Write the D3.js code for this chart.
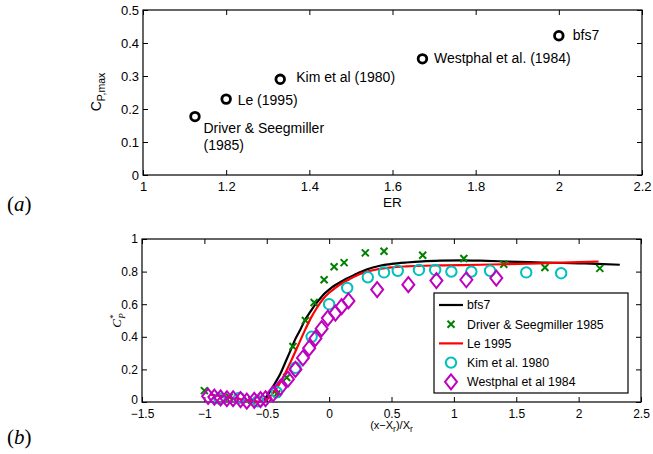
<!DOCTYPE html>
<html><head><meta charset="utf-8">
<script src="https://cdn.jsdelivr.net/npm/d3@7"></script>
<style>
body{margin:0;background:#fff}
svg{display:block}
text{fill:#000}
.sans{font-family:"Liberation Sans",Arial,Helvetica,sans-serif}
.serif{font-family:"Liberation Serif","DejaVu Serif",serif}
</style>
</head><body>
<svg id="c" width="653" height="454" class="sans"></svg>
<script>
// ---------- Panel (a) data ----------
const erValues = [1.125, 1.2, 1.33, 1.672, 2.0];
const cpMaxValues = [0.177, 0.23, 0.29, 0.352, 0.422];
const cpMaxLabels = [["Driver & Seegmiller", "(1985)"], ["Le (1995)"], ["Kim et al (1980)"], ["Westphal et al. (1984)"], ["bfs7"]];
const topXTicks = [1, 1.2, 1.4, 1.6, 1.8, 2, 2.2];
const topYTicks = [0, 0.1, 0.2, 0.3, 0.4, 0.5];

// ---------- Panel (b) data ----------
const bfs7X = [-0.54,-0.49,-0.434,-0.39,-0.354,-0.31,-0.274,-0.23,-0.193,-0.15,-0.113,-0.07,-0.033,0.0,0.047,0.088,0.127,0.21,0.3,0.407,0.5,0.62,0.75,0.89,1.07,1.21,1.42,1.6,1.74,2.0,2.15,2.33];
const bfs7Y = [0,0.045,0.115,0.175,0.238,0.315,0.381,0.445,0.504,0.555,0.596,0.637,0.668,0.69,0.716,0.735,0.752,0.783,0.813,0.836,0.847,0.856,0.863,0.867,0.869,0.867,0.862,0.858,0.855,0.851,0.848,0.842];

const le1995X = [-0.95,-0.85,-0.75,-0.65,-0.57,-0.51,-0.46,-0.40,-0.35,-0.30,-0.25,-0.20,-0.15,-0.10,-0.05,0.0,0.05,0.10,0.16,0.247,0.32,0.407,0.5,0.62,0.75,0.89,1.05,1.21,1.4,1.6,1.8,2.0,2.16];
const le1995Y = [0.045,0.035,0.022,0.01,0.003,0.01,0.045,0.11,0.18,0.26,0.345,0.43,0.51,0.575,0.63,0.67,0.70,0.727,0.752,0.785,0.803,0.817,0.826,0.832,0.836,0.838,0.840,0.842,0.845,0.849,0.853,0.858,0.862];

const driverX = [-1.0,-0.8,-0.62,-0.42,-0.34,-0.29,-0.19,-0.12,-0.04,0.04,0.12,0.29,0.44,0.75,1.08,1.40,1.73,2.17];
const driverY = [0.07,0.03,0.01,0.05,0.15,0.34,0.50,0.61,0.75,0.83,0.855,0.915,0.925,0.90,0.88,0.845,0.825,0.82];

const kimX = [-0.88,-0.72,-0.57,-0.42,-0.27,-0.14,0.0,0.145,0.31,0.44,0.55,0.72,0.85,0.98,1.14,1.29,1.58,1.86];
const kimY = [0.02,0.025,0.005,0.06,0.21,0.40,0.60,0.70,0.765,0.795,0.805,0.81,0.81,0.80,0.80,0.805,0.795,0.79];

const westphalX = [-0.97,-0.92,-0.87,-0.82,-0.77,-0.71,-0.66,-0.60,-0.55,-0.51,-0.45,-0.39,-0.33,-0.27,-0.21,-0.16,-0.11,-0.06,-0.01,0.05,0.10,0.155,0.385,0.635,0.86,1.10,1.34];
const westphalY = [0.035,0.03,0.025,0.02,0.02,0.015,0.005,0.01,0.015,0.02,0.05,0.09,0.14,0.20,0.27,0.33,0.39,0.45,0.515,0.545,0.585,0.62,0.69,0.72,0.745,0.75,0.76];

const botXTicks = [-1.5,-1,-0.5,0,0.5,1,1.5,2,2.5];
const botYTicks = [0,0.2,0.4,0.6,0.8,1];
const legendNames = ["bfs7", "Driver & Seegmiller 1985", "Le 1995", "Kim et al. 1980", "Westphal et al 1984"];

// ---------- drawing ----------
const svg = d3.select("#c");
const fmt = v => d3.format("")(v).replace("-", "\u2212");

function boxAxes(g, x, y, xt, yt, xPad, yPad, fs) {
  const [x0, x1] = x.range(), [y0, y1] = y.range();
  g.append("g").attr("transform", `translate(0,${y0})`)
    .call(d3.axisBottom(x).tickValues(xt).tickFormat(fmt).tickSizeInner(-5).tickSizeOuter(0).tickPadding(xPad))
    .call(a => { a.select(".domain").remove(); a.selectAll("text").attr("font-size", fs).attr("font-family", null); a.selectAll("line").attr("stroke", "#000"); });
  g.append("g").attr("transform", `translate(0,${y1})`)
    .call(d3.axisTop(x).tickValues(xt).tickFormat("").tickSizeInner(-5).tickSizeOuter(0))
    .call(a => { a.select(".domain").remove(); a.selectAll("line").attr("stroke", "#000"); });
  const yax = g.append("g").attr("transform", `translate(${x0},0)`)
    .call(d3.axisLeft(y).tickValues(yt).tickFormat(fmt).tickSizeInner(-5).tickSizeOuter(0).tickPadding(yPad))
    .call(a => { a.select(".domain").remove(); a.selectAll("text").attr("font-size", fs).attr("font-family", null); a.selectAll("line").attr("stroke", "#000"); });
  g.append("g").attr("transform", `translate(${x1},0)`)
    .call(d3.axisRight(y).tickValues(yt).tickFormat("").tickSizeInner(-5).tickSizeOuter(0))
    .call(a => { a.select(".domain").remove(); a.selectAll("line").attr("stroke", "#000"); });
  g.append("rect").attr("x", x0).attr("y", y1).attr("width", x1 - x0).attr("height", y0 - y1)
    .attr("fill", "none").attr("stroke", "#000").attr("stroke-width", 1.2);
  return yax;
}

// Panel (a)
const xa = d3.scaleLinear().domain([1, 2.2]).range([143, 642]);
const ya = d3.scaleLinear().domain([0, 0.5]).range([175, 10]);
const ga = svg.append("g");
boxAxes(ga, xa, ya, topXTicks, topYTicks, 7, 4, 13);

const labelOffsets = [[8.5, 16.5], [11.5, 6], [16, 3], [11.5, 4.5], [14, 4]];
erValues.forEach((v, i) => {
  ga.append("circle").attr("cx", xa(v)).attr("cy", ya(cpMaxValues[i])).attr("r", 4.3)
    .attr("fill", "none").attr("stroke", "#000").attr("stroke-width", 2.8);
  const t = ga.append("text").attr("font-size", 14)
    .attr("x", xa(v) + labelOffsets[i][0]).attr("y", ya(cpMaxValues[i]) + labelOffsets[i][1]);
  cpMaxLabels[i].forEach((s, j) => t.append("tspan").attr("x", xa(v) + labelOffsets[i][0]).attr("dy", j ? 17 : 0).text(s));
});
ga.append("text").attr("x", 392.5).attr("y", 207).attr("text-anchor", "middle").attr("font-size", 13.5).text("ER");
const yla = ga.append("text").attr("transform", "translate(101,92) rotate(-90)").attr("text-anchor", "middle").attr("font-size", 14);
yla.append("tspan").text("C");
yla.append("tspan").attr("font-size", 10.5).attr("dy", 4).text("P,max");
const la = svg.append("text").attr("class", "serif").attr("x", 7).attr("y", 211).attr("font-size", 21);
la.append("tspan").text("(");
la.append("tspan").attr("font-style", "italic").text("a");
la.append("tspan").text(")");

// Panel (b)
const xb = d3.scaleLinear().domain([-1.5, 2.5]).range([142, 641]);
const yb = d3.scaleLinear().domain([0, 1]).range([402, 239]);
const gb = svg.append("g");
const ybAxis = boxAxes(gb, xb, yb, botXTicks, botYTicks, 7, 4, 12);
ybAxis.selectAll(".tick text").filter(d => d === 0).attr("y", -2);

const line = d3.line().x(d => xb(d[0])).y(d => yb(d[1])).curve(d3.curveMonotoneX);
const zip = (a, b) => a.map((v, i) => [v, b[i]]);
const plot = gb.append("g");
const green = "#008000", cyan = "#00bfbf", magenta = "#bf00bf";

plot.append("path").attr("d", line(zip(bfs7X, bfs7Y))).attr("fill", "none").attr("stroke", "#000").attr("stroke-width", 2.2);

function xMark(sel, cx, cy, s) {
  sel.append("path").attr("d", `M${cx - s},${cy - s}L${cx + s},${cy + s}M${cx - s},${cy + s}L${cx + s},${cy - s}`)
    .attr("stroke", green).attr("stroke-width", 2).attr("fill", "none");
}
function diamond(sel, cx, cy) {
  sel.append("path").attr("d", `M${cx},${cy - 7.5}L${cx + 6},${cy}L${cx},${cy + 7.5}L${cx - 6},${cy}Z`)
    .attr("stroke", magenta).attr("stroke-width", 2).attr("fill", "none");
}
function ring(sel, cx, cy) {
  sel.append("circle").attr("cx", cx).attr("cy", cy).attr("r", 5.2)
    .attr("stroke", cyan).attr("stroke-width", 2).attr("fill", "none");
}

driverX.forEach((v, i) => xMark(plot, xb(v), yb(driverY[i]), 3.5));
plot.append("path").attr("d", line(zip(le1995X, le1995Y))).attr("fill", "none").attr("stroke", "#ff0000").attr("stroke-width", 2.2);
kimX.forEach((v, i) => ring(plot, xb(v), yb(kimY[i])));
westphalX.forEach((v, i) => diamond(plot, xb(v), yb(westphalY[i])));

// Legend
const lg = gb.append("g");
lg.append("rect").attr("x", 434).attr("y", 293).attr("width", 194).attr("height", 100)
  .attr("fill", "#fff").attr("stroke", "#000").attr("stroke-width", 1.2);
legendNames.forEach((n, i) => {
  const cy = 305 + i * 19.2, cx = 451;
  if (i === 0) lg.append("line").attr("x1", 439).attr("x2", 463).attr("y1", cy).attr("y2", cy).attr("stroke", "#000").attr("stroke-width", 2.2);
  if (i === 1) xMark(lg, cx, cy, 3.5);
  if (i === 2) lg.append("line").attr("x1", 439).attr("x2", 463).attr("y1", cy).attr("y2", cy).attr("stroke", "#ff0000").attr("stroke-width", 2.2);
  if (i === 3) ring(lg, cx, cy);
  if (i === 4) diamond(lg, cx, cy);
  lg.append("text").attr("x", 467).attr("y", cy + 4.3).attr("font-size", 12.3).text(n);
});

// Axis labels (b)
const xlb = gb.append("text").attr("x", 391.5).attr("y", 428.5).attr("text-anchor", "middle").attr("font-size", 11);
xlb.append("tspan").text("(x\u2212X");
xlb.append("tspan").attr("font-size", 8.5).attr("dy", 3).text("r");
xlb.append("tspan").attr("dy", -3).text(")/X");
xlb.append("tspan").attr("font-size", 8.5).attr("dy", 3).text("r");
const ylb = gb.append("text").attr("class", "serif").attr("transform", "translate(121,320.5) rotate(-90)").attr("text-anchor", "middle")
  .attr("font-style", "italic").attr("font-size", 13);
ylb.append("tspan").text("C");
ylb.append("tspan").attr("font-size", 9).attr("dy", -5).text("*");
ylb.append("tspan").attr("font-size", 9).attr("dx", -4).attr("dy", 9).text("P");
const lb = svg.append("text").attr("class", "serif").attr("x", 7).attr("y", 444).attr("font-size", 21);
lb.append("tspan").text("(");
lb.append("tspan").attr("font-style", "italic").text("b");
lb.append("tspan").text(")");
</script>
</body></html>
